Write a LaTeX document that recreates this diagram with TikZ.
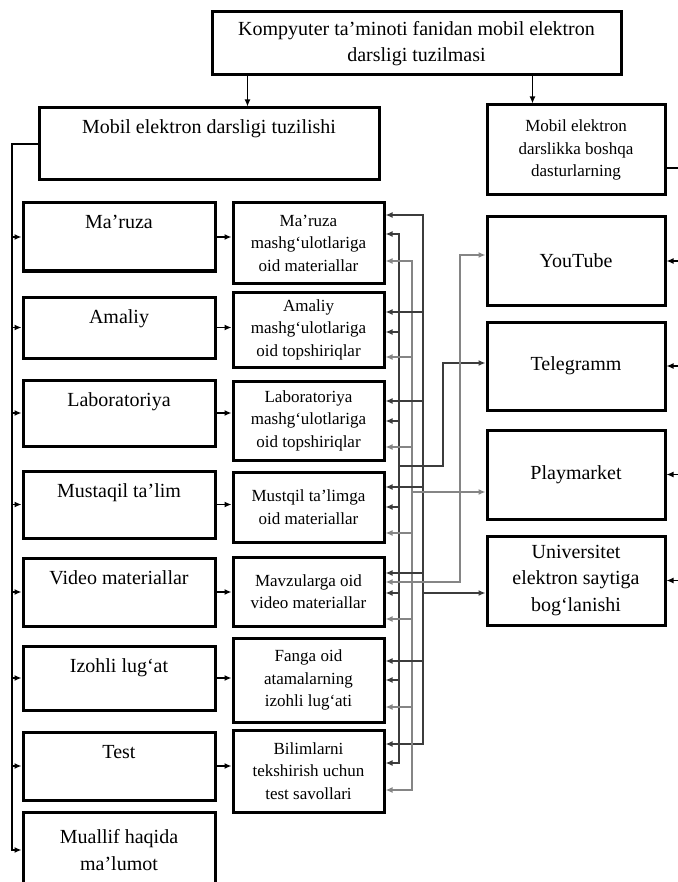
\documentclass[tikz,border=0pt]{standalone}
\usepackage{fontspec}
\setmainfont{Liberation Serif}
\usetikzlibrary{positioning,calc,arrows.meta}
\definecolor{darkline}{HTML}{3C3C3C}
\definecolor{greyline}{HTML}{858585}
\newcommand{\bigfont}{\fontsize{20}{26.5}\selectfont}
\newcommand{\midfont}{\fontsize{17}{22.5}\selectfont}
\begin{document}
\begin{tikzpicture}[x=1pt, y=-1pt, >={Latex[length=7pt,width=6pt]},
    box/.style={draw, line width=3pt, inner sep=4pt, align=center},
    lbox/.style={box, minimum width=192pt, font=\bigfont, text height=22pt, text depth=#1pt},
    mbox/.style={box, minimum width=151pt, minimum height=#1pt, font=\midfont},
    rbox/.style={box, minimum width=178pt, minimum height=#1pt, font=\bigfont},
    ln/.style={line width=1.4pt},
    dk/.style={ln, draw=darkline},
    gr/.style={ln, draw=greyline}]
\useasboundingbox (0,0) rectangle (677,882);

\node[box, minimum width=409pt, minimum height=63pt, font=\bigfont] (top) at (416.5,43.5) {Kompyuter ta’minoti fanidan mobil elektron\\darsligi tuzilmasi};
\node[lbox=42, minimum width=340pt] (struct) at (209,144) {Mobil elektron darsligi tuzilishi};
\node[mbox=90, minimum width=178pt] (ext) at (576,150) {Mobil elektron\\darslikka boshqa\\dasturlarning};

% left column
\node[lbox=38] (maruza) at (119,237) {Ma’ruza};
\node[lbox=31, below=23pt of maruza] (amaliy) {Amaliy};
\node[lbox=36, below=19pt of amaliy] (lab) {Laboratoriya};
\node[lbox=37, below=22pt of lab] (must) {Mustaqil ta’lim};
\node[lbox=38, below=17pt of must] (video) {Video materiallar};
\node[lbox=34, below=17pt of video] (izohli) {Izohli lug‘at};
\node[lbox=38, below=19pt of izohli] (test) {Test};
\node[rbox=76, minimum width=192pt, below=9pt of test] (muallif) {Muallif haqida\\ma’lumot};

% middle column
\node[mbox=80] (m1) at (308.5,243) {Ma’ruza\\mashg‘ulotlariga\\oid materiallar};
\node[mbox=75, below=6pt of m1] (m2) {Amaliy\\mashg‘ulotlariga\\oid topshiriqlar};
\node[mbox=79, below=11pt of m2] (m3) {Laboratoriya\\mashg‘ulotlariga\\oid topshiriqlar};
\node[mbox=70, below=9pt of m3] (m4) {Mustqil ta’limga\\oid materiallar};
\node[mbox=69, below=12pt of m4] (m5) {Mavzularga oid\\video materiallar};
\node[mbox=84, below=9pt of m5] (m6) {Fanga oid\\atamalarning\\izohli lug‘ati};
\node[mbox=82, below=5pt of m6] (m7) {Bilimlarni\\tekshirish uchun\\test savollari};

% right column
\node[rbox=88] (yt) at (576,261) {YouTube};
\node[rbox=88, below=14pt of yt] (tele) {Telegramm};
\node[rbox=89, below=17pt of tele] (play) {Playmarket};
\node[rbox=89, below=14pt of play] (uni) {Universitet\\elektron saytiga\\bog‘lanishi};

% bus lines and arrow points
\coordinate (lbus) at (12,0);
\coordinate (busB) at (399,0);
\coordinate (busC) at (412,0);
\coordinate (busA) at (423,0);
\coordinate (busE) at (443,0);
\coordinate (busD) at (460,0);
\coordinate (rbus) at (690,0);
\coordinate (tl) at ([xshift=37pt]top.south west);
\coordinate (tr) at ([xshift=322pt]top.south west);
\foreach \m/\a/\b/\c in {m1/28/9/-18, m2/17.5/-2.5/-27.5, m3/19.5/-0.5/-26.5, m4/20/0/-26, m5/18.5/-1.5/-27.5, m6/19/0/-27, m7/27/8/-19}{
    \coordinate (\m-a) at ([yshift=\a pt]\m.east);
    \coordinate (\m-b) at ([yshift=\b pt]\m.east);
    \coordinate (\m-c) at ([yshift=\c pt]\m.east);
}
\coordinate (m5-d) at ([yshift=9.5pt]m5.east);
\coordinate (yt-in) at ([yshift=6pt]yt.west);
\coordinate (tele-in) at ([yshift=3pt]tele.west);
\coordinate (play-in) at ([yshift=-17.5pt]play.west);
\coordinate (uni-in) at ([yshift=-12.5pt]uni.west);
\coordinate (ext-out) at ([yshift=-18pt]ext.east);
\coordinate (jB) at ($(m3.south)!.5!(m4.north)$);

\draw[ln,->] (tl) -- (tl |- struct.north);
\draw[ln,->] (tr) -- (tr |- ext.north);

\foreach \n in {maruza,amaliy,lab,must,video,izohli,test,muallif}
    \draw[ln,->] (struct.west) -| (lbus |- \n.west) -- (\n.west);
\foreach \l/\m in {maruza/m1, amaliy/m2, lab/m3, must/m4, video/m5, izohli/m6, test/m7}
    \draw[ln,->] (\l.east) -- (\l.east -| \m.west);

\draw[dk,<->] (m1-a) -| (busA |- m7-a) -- (m7-a);
\draw[dk,<->] (m1-b) -| (busB |- m7-b) -- (m7-b);
\draw[gr,<->] (m1-c) -| (busC |- m7-c) -- (m7-c);
\foreach \m in {m2,m3,m4,m5,m6}{
    \draw[dk,->] (busA |- \m-a) -- (\m-a);
    \draw[dk,->] (busB |- \m-b) -- (\m-b);
    \draw[gr,->] (busC |- \m-c) -- (\m-c);
}
\draw[dk,->] (busB |- jB) -| (busE |- tele-in) -- (tele-in);
\draw[gr,->] (busC |- play-in) -- (play-in);
\draw[gr,<->] (m5-d) -| (busD |- yt-in) -- (yt-in);
\draw[dk,->] (busA |- uni-in) -- (uni-in);

\draw[ln] (ext-out) -- (ext-out -| rbus) -- (rbus |- uni.east);
\foreach \r in {yt,tele,play,uni}
    \draw[ln,->] (rbus |- \r.east) -- (\r.east);
\end{tikzpicture}
\end{document}
